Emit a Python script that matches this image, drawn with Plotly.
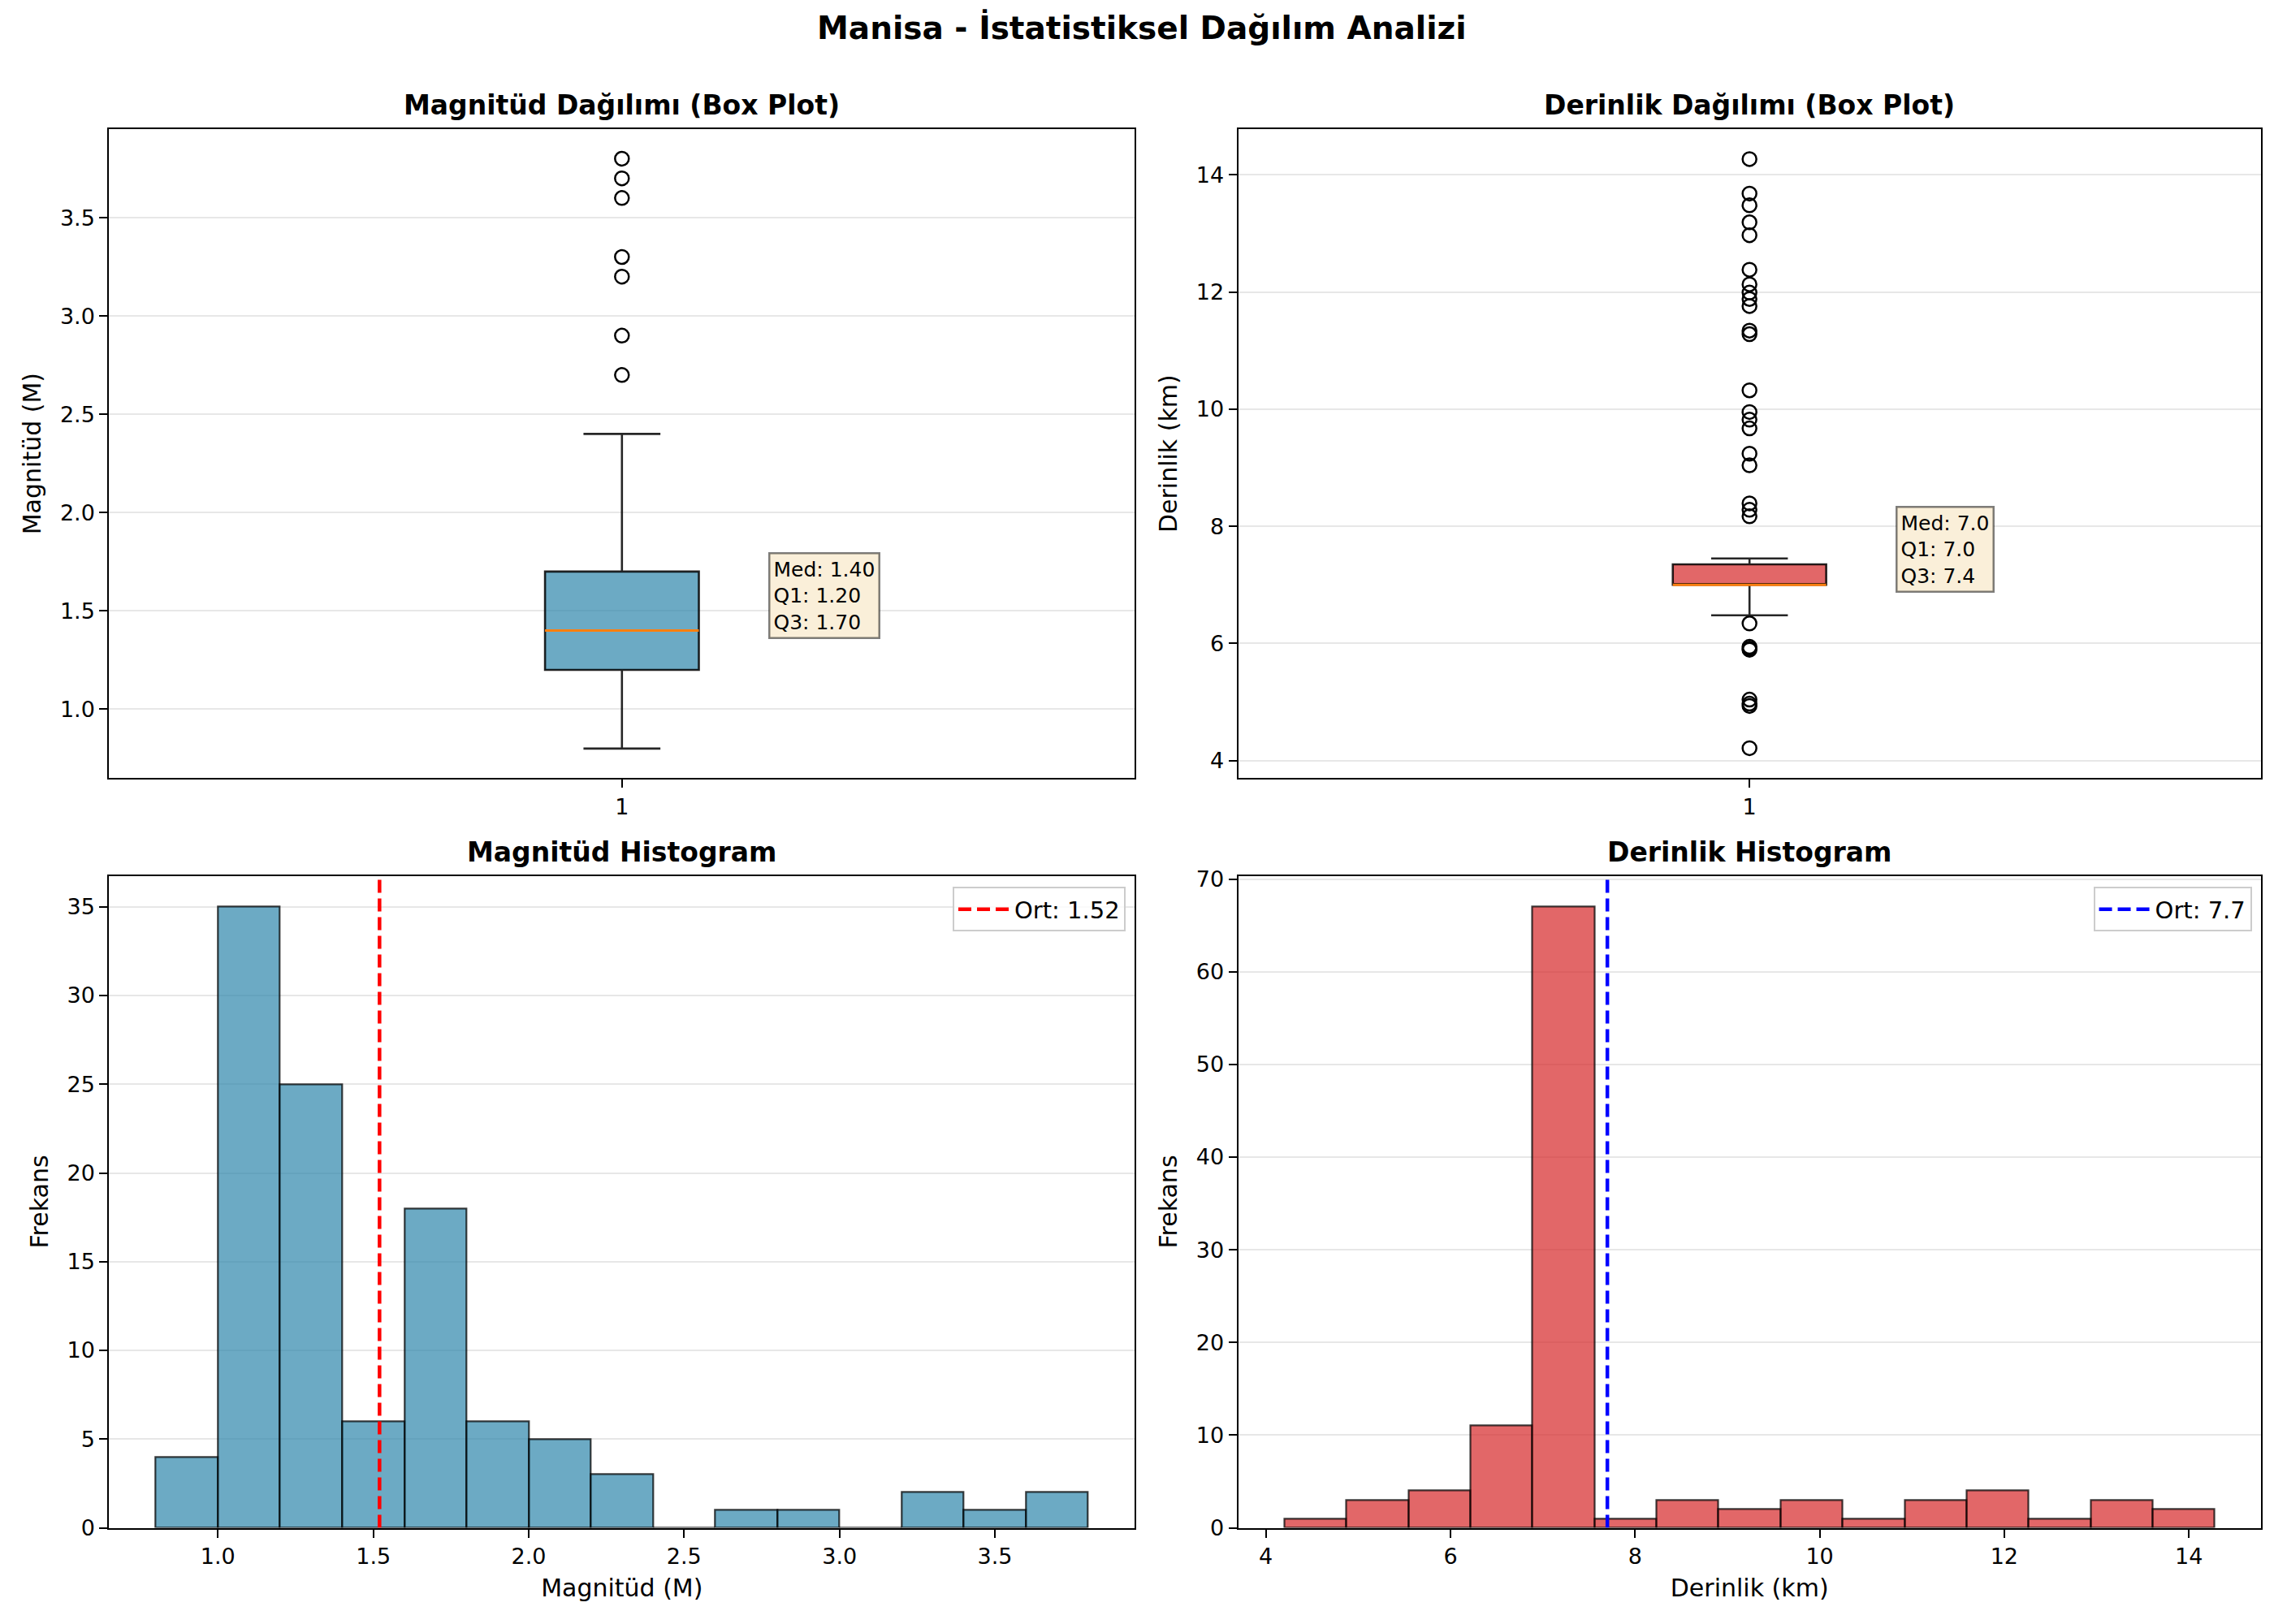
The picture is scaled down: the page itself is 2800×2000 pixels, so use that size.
import plotly.graph_objects as go

# ---------------- data ----------------
mag_stats = dict(q1=1.20, median=1.40, q3=1.70, lower=0.80, upper=2.40)
mag_outliers = [3.8, 3.7, 3.6, 3.3, 3.2, 2.9, 2.7]

dep_stats = dict(q1=7.0, median=7.0, q3=7.35, lower=6.48, upper=7.45)
dep_outliers = [14.27, 13.68, 13.48, 13.19, 12.97, 12.38, 12.13, 11.99, 11.88, 11.76,
                11.34, 11.28, 10.32, 9.95, 9.82, 9.67, 9.24, 9.04, 8.39, 8.28, 8.17,
                6.34, 5.94, 5.91, 5.89, 5.04, 4.97, 4.93, 4.21]

mag_bin_start = 0.8
mag_bin_width = 0.2
mag_counts = [4, 35, 25, 6, 18, 6, 5, 3, 0, 1, 1, 0, 2, 1, 2]
mag_mean = 1.52

dep_bin_start = 4.2
dep_bin_end = 14.28
dep_counts = [1, 3, 4, 11, 67, 1, 3, 2, 3, 1, 3, 4, 1, 3, 2]
dep_mean = 7.7

mag_labels = ["Med: 1.40", "Q1: 1.20", "Q3: 1.70"]
dep_labels = ["Med: 7.0", "Q1: 7.0", "Q3: 7.4"]

title = "Manisa - İstatistiksel Dağılım Analizi"
sub_titles = ["Magnitüd Dağılımı (Box Plot)", "Derinlik Dağılımı (Box Plot)",
              "Magnitüd Histogram", "Derinlik Histogram"]

# ---------------- style ----------------
BLUE = "rgba(46,134,171,0.7)"
RED = "rgba(214,39,40,0.7)"
EDGE = "rgba(0,0,0,0.75)"
FONT = "DejaVu Sans"
TICK = 27
LAB = 30

# compensate the default 8px page margin of the html body
DX = -8 / 2800
DY = 8 / 2000

def sx(d):
    return [d[0] + DX, d[1] + DX]

def sy(d):
    return [d[0] + DY, d[1] + DY]

X1 = sx([0.048, 0.499])
X2 = sx([0.5445, 0.9942])
YT = sy([0.5205, 0.9255])
YB = sy([0.0525, 0.4595])

fig = go.Figure()

BOX_W = 0.15

def add_box(stats, outliers, color, xa, ya):
    fig.add_trace(go.Box(
        x=[1], q1=[stats["q1"]], median=[stats["median"]], q3=[stats["q3"]],
        lowerfence=[stats["lower"]], upperfence=[stats["upper"]],
        width=BOX_W, whiskerwidth=0.5, fillcolor=color,
        line=dict(color="rgba(0,0,0,0.85)", width=2.6), boxpoints=False,
        showlegend=False, xaxis=xa, yaxis=ya, hoverinfo="skip"))
    fig.add_trace(go.Scatter(
        x=[1] * len(outliers), y=outliers, mode="markers",
        marker=dict(symbol="circle-open", size=17, color="black", line=dict(width=2.5)),
        showlegend=False, xaxis=xa, yaxis=ya, hoverinfo="skip"))
    fig.add_shape(type="line", xref=xa, yref=ya,
                  x0=1 - BOX_W / 2, x1=1 + BOX_W / 2,
                  y0=stats["median"], y1=stats["median"],
                  line=dict(color="#ff7f0e", width=3))

add_box(mag_stats, mag_outliers, BLUE, "x", "y")
add_box(dep_stats, dep_outliers, RED, "x2", "y2")

# histograms
mag_centers = [mag_bin_start + mag_bin_width * (i + 0.5) for i in range(len(mag_counts))]
dep_w = (dep_bin_end - dep_bin_start) / len(dep_counts)
dep_centers = [dep_bin_start + dep_w * (i + 0.5) for i in range(len(dep_counts))]

fig.add_trace(go.Bar(x=mag_centers, y=mag_counts, width=mag_bin_width,
                     marker=dict(color=BLUE, line=dict(color=EDGE, width=2.2)),
                     showlegend=False, xaxis="x3", yaxis="y3"))
fig.add_trace(go.Bar(x=dep_centers, y=dep_counts, width=dep_w,
                     marker=dict(color=RED, line=dict(color=EDGE, width=2.2)),
                     showlegend=False, xaxis="x4", yaxis="y4"))

mag_ymax = max(mag_counts) * 1.05
dep_ymax = max(dep_counts) * 1.05

fig.add_trace(go.Scatter(x=[mag_mean, mag_mean], y=[0, mag_ymax], mode="lines",
                         line=dict(color="red", width=4.5, dash="16px,7px"),
                         name=f"Ort: {mag_mean:.2f}", xaxis="x3", yaxis="y3",
                         legend="legend"))
fig.add_trace(go.Scatter(x=[dep_mean, dep_mean], y=[0, dep_ymax], mode="lines",
                         line=dict(color="blue", width=4.5, dash="16px,7px"),
                         name=f"Ort: {dep_mean:.1f}", xaxis="x4", yaxis="y4",
                         legend="legend2"))

# annotation boxes
def stat_box(lines, xa, ya, yval):
    fig.add_annotation(x=1.143, y=yval, xref=xa, yref=ya, xanchor="left", yanchor="bottom",
                       text="<br>".join(lines), showarrow=False, align="left",
                       font=dict(family=FONT, size=25, color="black"),
                       bgcolor="#FAEFD9", bordercolor="rgba(0,0,0,0.5)", borderwidth=2.5,
                       borderpad=4, yshift=-10)

stat_box(mag_labels, "x", "y", mag_stats["median"])
stat_box(dep_labels, "x2", "y2", dep_stats["median"])

# axes
def ax(domain, anchor, rng, **kw):
    d = dict(domain=domain, anchor=anchor, range=rng, showline=True, mirror=True,
             linecolor="black", linewidth=2.2, ticks="outside", ticklen=10, tickwidth=2,
             tickcolor="black", tickfont=dict(family=FONT, size=TICK, color="black"),
             zeroline=False, showgrid=False)
    d.update(kw)
    return d

def title_(t):
    return dict(text=t, font=dict(family=FONT, size=LAB, color="black"), standoff=14)

GRID = dict(showgrid=True, gridcolor="rgba(176,176,176,0.3)", gridwidth=2)

LEG = dict(xanchor="right", yanchor="top", bgcolor="rgba(255,255,255,0.8)",
           bordercolor="#cccccc", borderwidth=2, itemwidth=64,
           font=dict(family=FONT, size=29, color="black"))

fig.update_layout(
    width=2800, height=2000, paper_bgcolor="white", plot_bgcolor="white",
    margin=dict(l=0, r=0, t=0, b=0), barmode="overlay", bargap=0,
    font=dict(family=FONT, color="black"),
    xaxis=ax(X1, "y", [0.5, 1.5], tickvals=[1], ticktext=["1"]),
    yaxis=ax(YT, "x", [0.65, 3.95], dtick=0.5, tickformat=".1f",
             title=title_("Magnitüd (M)"), **GRID),
    xaxis2=ax(X2, "y2", [0.5, 1.5], tickvals=[1], ticktext=["1"]),
    yaxis2=ax(YT, "x2", [3.7, 14.78], tickvals=[4, 6, 8, 10, 12, 14],
              title=title_("Derinlik (km)"), **GRID),
    xaxis3=ax(X1, "y3", [0.65, 3.95], tickvals=[1.0, 1.5, 2.0, 2.5, 3.0, 3.5],
              tickformat=".1f", title=title_("Magnitüd (M)")),
    yaxis3=ax(YB, "x3", [0, mag_ymax], dtick=5, title=title_("Frekans"), **GRID),
    xaxis4=ax(X2, "y4", [3.7, 14.78], tickvals=[4, 6, 8, 10, 12, 14],
              title=title_("Derinlik (km)")),
    yaxis4=ax(YB, "x4", [0, dep_ymax], dtick=10, title=title_("Frekans"), **GRID),
    legend=dict(x=X1[1] - 0.004, y=YB[1] - 0.007, **LEG),
    legend2=dict(x=X2[1] - 0.004, y=YB[1] - 0.007, **LEG),
)

# titles
fig.add_annotation(x=0.502 + DX, y=0.989 + DY, xref="paper", yref="paper",
                   text=f"<b>{title}</b>", showarrow=False,
                   font=dict(family=FONT, size=39, color="black"),
                   xanchor="center", yanchor="middle")
positions = [(X1, YT), (X2, YT), (X1, YB), (X2, YB)]
for t, (xd, yd) in zip(sub_titles, positions):
    fig.add_annotation(x=(xd[0] + xd[1]) / 2, y=yd[1], xref="paper", yref="paper",
                       text=f"<b>{t}</b>", showarrow=False, xanchor="center", yanchor="bottom",
                       yshift=8, font=dict(family=FONT, size=33, color="black"))

fig.write_html("out.html")
